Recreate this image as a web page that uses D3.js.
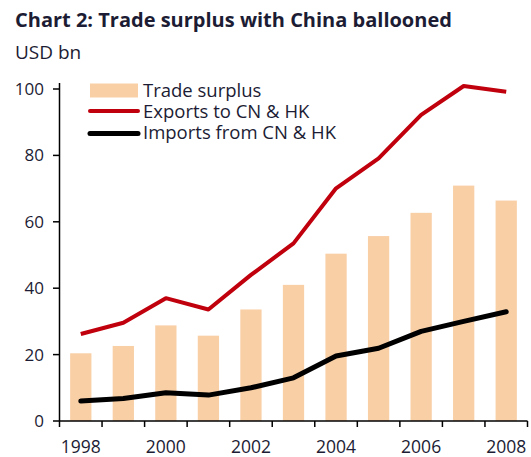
<!DOCTYPE html>
<html>
<head>
<meta charset="utf-8">
<script src="https://cdn.jsdelivr.net/npm/d3@7"></script>
<style>
  body { margin: 0; background: #fff; }
  text { font-family: "Open Sans", sans-serif; fill: #1c1c34; }
</style>
</head>
<body>
<svg width="531" height="457"></svg>
<script>
const years = ["1998", "1999", "2000", "2001", "2002", "2003", "2004", "2005", "2006", "2007", "2008"];
const surplus = [20.4, 22.6, 28.8, 25.7, 33.6, 41.0, 50.4, 55.7, 62.7, 70.9, 66.4];
const exports = [26.2, 29.6, 37.0, 33.6, 44.0, 53.5, 70.1, 79.1, 92.2, 100.9, 99.2];
const imports = [6.0, 6.8, 8.5, 7.8, 10.0, 13.0, 19.6, 21.9, 27.0, 30.0, 32.9];
const yTicks = [0, 20, 40, 60, 80, 100];
const xLabels = ["1998", "2000", "2002", "2004", "2006", "2008"];
const legendLabels = ["Trade surplus", "Exports to CN & HK", "Imports from CN & HK"];

const svg = d3.select("svg");

const x = d3.scaleBand().domain(years).range([59.5, 527.5]);
const xBar = d3.scaleBand().domain(years).range([59.5, 527.5]).paddingInner(0.5).paddingOuter(0.25);
const y = d3.scaleLinear().domain([0, 100]).range([421, 89]);

// title
svg.append("text")
  .attr("x", 15).attr("y", 27)
  .style("font-size", "20px").style("font-weight", "bold")
  .text("Chart 2: Trade surplus with China ballooned");
svg.append("text")
  .attr("x", 15).attr("y", 58.5)
  .style("font-size", "19px")
  .text("USD bn");

// bars
svg.selectAll(".bar")
  .data(surplus)
  .enter().append("rect")
  .attr("class", "bar")
  .attr("x", (d, i) => xBar(years[i]))
  .attr("width", xBar.bandwidth())
  .attr("y", d => y(d))
  .attr("height", d => y(0) - y(d))
  .style("fill", "#f9cfa6");

// lines
const line = d3.line()
  .x((d, i) => x(years[i]) + x.bandwidth() / 2)
  .y(d => y(d));

svg.append("path")
  .attr("d", line(exports))
  .style("fill", "none")
  .style("stroke", "#c0000c")
  .style("stroke-width", 4)
  .style("stroke-linejoin", "round");

svg.append("path")
  .attr("d", line(imports))
  .style("fill", "none")
  .style("stroke", "#000")
  .style("stroke-width", 5)
  .style("stroke-linejoin", "round")
  .style("stroke-linecap", "round");

// y axis
svg.append("line")
  .attr("x1", 59.5).attr("x2", 59.5)
  .attr("y1", 83).attr("y2", 421)
  .style("stroke", "#000").style("stroke-width", 1.5);
svg.selectAll(".ytick")
  .data(yTicks)
  .enter().append("line")
  .attr("x1", 53).attr("x2", 59.5)
  .attr("y1", d => y(d)).attr("y2", d => y(d))
  .style("stroke", "#000").style("stroke-width", 1.5);
svg.selectAll(".ylab")
  .data(yTicks)
  .enter().append("text")
  .attr("x", 44).attr("y", d => y(d))
  .attr("dy", "0.35em")
  .attr("text-anchor", "end")
  .style("font-size", "17px")
  .text(d => d);

// x axis
svg.append("line")
  .attr("x1", 59.5).attr("x2", 527.5)
  .attr("y1", 421).attr("y2", 421)
  .style("stroke", "#000").style("stroke-width", 1.5);
svg.selectAll(".xtick")
  .data(years.concat(["end"]))
  .enter().append("line")
  .attr("x1", d => d === "end" ? 527.5 : x(d))
  .attr("x2", d => d === "end" ? 527.5 : x(d))
  .attr("y1", 421).attr("y2", 427)
  .style("stroke", "#000").style("stroke-width", 1.5);
svg.selectAll(".xlab")
  .data(xLabels)
  .enter().append("text")
  .attr("x", d => x(d) + x.bandwidth() / 2)
  .attr("y", 453)
  .attr("text-anchor", "middle")
  .style("font-size", "17.5px")
  .text(d => d);

// legend
const legend = svg.append("g");
legend.append("rect")
  .attr("x", 90).attr("y", 83.5).attr("width", 48).attr("height", 14)
  .style("fill", "#f9cfa6");
legend.append("line")
  .attr("x1", 90).attr("x2", 138).attr("y1", 111).attr("y2", 111)
  .style("stroke", "#c0000c").style("stroke-width", 4).style("stroke-linecap", "round");
legend.append("line")
  .attr("x1", 90).attr("x2", 138).attr("y1", 133.5).attr("y2", 133.5)
  .style("stroke", "#000").style("stroke-width", 5).style("stroke-linecap", "round");
legend.selectAll(".leg")
  .data(legendLabels)
  .enter().append("text")
  .attr("x", 143)
  .attr("y", (d, i) => 91 + i * 20.7)
  .attr("dy", "0.35em")
  .style("font-size", "18.5px")
  .text(d => d);
</script>
</body>
</html>
